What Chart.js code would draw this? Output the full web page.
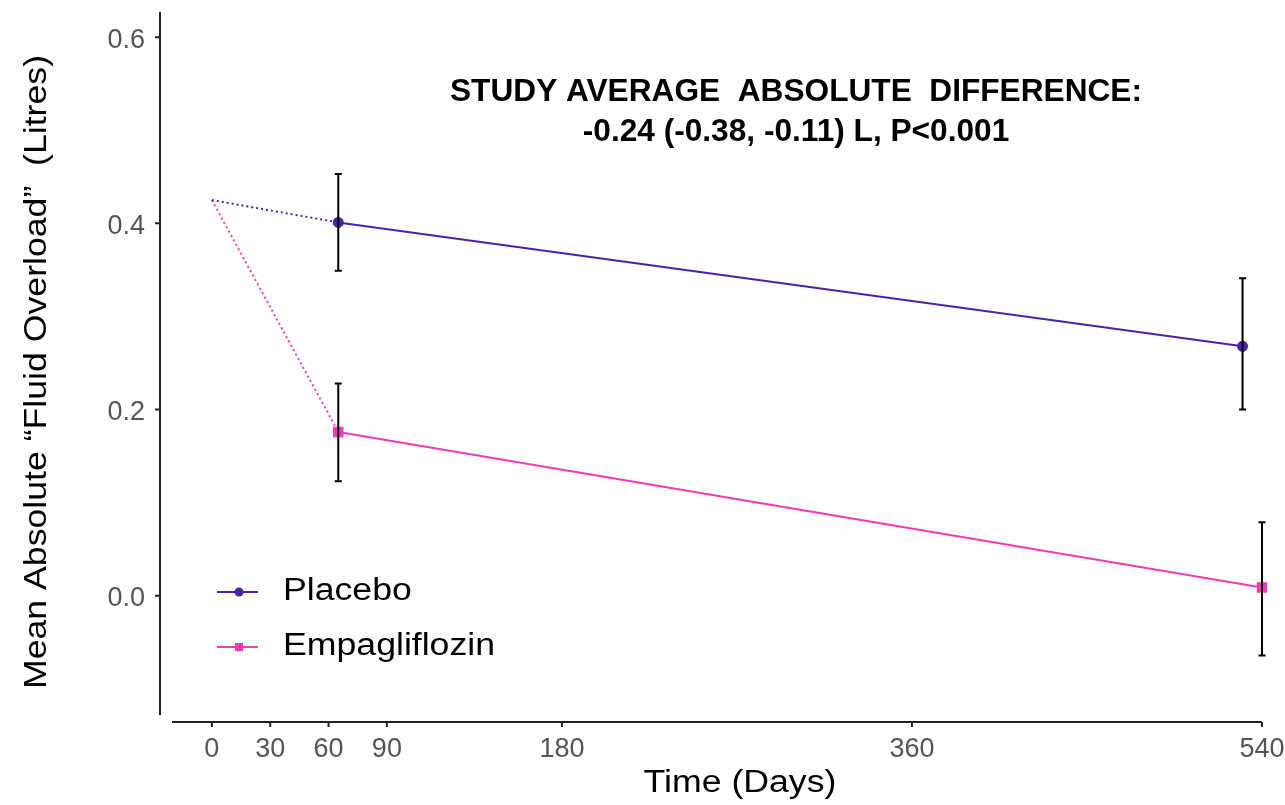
<!DOCTYPE html>
<html>
<head>
<meta charset="utf-8">
<script src="https://cdn.jsdelivr.net/npm/chart.js@4.4.1/dist/chart.umd.min.js"></script>
<style>
  html, body { margin: 0; padding: 0; background: #fff; }
  #wrap { width: 1285px; height: 805px; position: relative; }
</style>
</head>
<body>
<div id="wrap"><canvas id="fo"></canvas></div>
<script>
// ── data ───────────────────────────────────────────────────
const X_TICKS = [0, 30, 60, 90, 180, 360, 540];
const Y_TICKS = [0.0, 0.2, 0.4, 0.6];

const placeboDays = [0, 65, 530];
const placeboMean = [0.425, 0.401, 0.268];
const placeboLow  = [null, 0.349, 0.200];
const placeboHigh = [null, 0.453, 0.341];

const empaDays = [0, 65, 540];
const empaMean = [0.425, 0.176, 0.009];
const empaLow  = [null, 0.123, -0.064];
const empaHigh = [null, 0.228, 0.079];

const SERIES = ['Placebo', 'Empagliflozin'];
const COLORS = ['#4a23a6', '#ef3cb6'];
const TITLE_LINES = ['STUDY AVERAGE  ABSOLUTE  DIFFERENCE:', '-0.24 (-0.38, -0.11) L, P<0.001'];
const X_TITLE = 'Time (Days)';
const Y_TITLE = 'Mean Absolute \u201cFluid Overload\u201d  (Litres)';

const SANS = '"Liberation Sans", Arial, sans-serif';
const STRETCH = 1.15;   // the original figure's labels are slightly widened

const pts = (xs, ys) => xs.map((x, i) => ({ x, y: ys[i] }));

// dotted first segment (baseline → first visit)
const dotFirst = { borderDash: c => c.p0DataIndex === 0 ? [2, 3] : undefined };

// text with a horizontal scale factor
function wideText(ctx, txt, x, y, sx) {
  ctx.save();
  ctx.translate(x, y);
  ctx.scale(sx, 1);
  ctx.fillText(txt, 0, 0);
  ctx.restore();
}

// ── custom drawing: detached axes, error bars, legend, annotation ──
const extras = {
  id: 'extras',
  afterDatasetsDraw(chart) {
    const { ctx, scales: { x, y } } = chart;
    ctx.save();
    ctx.strokeStyle = '#000';
    ctx.lineWidth = 2;
    const bars = [
      [placeboDays, placeboLow, placeboHigh],
      [empaDays, empaLow, empaHigh],
    ];
    bars.forEach(([xs, lo, hi]) => {
      xs.forEach((d, i) => {
        if (lo[i] == null) return;
        const px = x.getPixelForValue(d);
        const y1 = y.getPixelForValue(lo[i]), y2 = y.getPixelForValue(hi[i]);
        ctx.beginPath();
        ctx.moveTo(px, y1); ctx.lineTo(px, y2);
        ctx.moveTo(px - 3.5, y1); ctx.lineTo(px + 3.5, y1);
        ctx.moveTo(px - 3.5, y2); ctx.lineTo(px + 3.5, y2);
        ctx.stroke();
      });
    });
    ctx.restore();
  },
  afterDraw(chart) {
    const { ctx, chartArea: a, scales: { x, y } } = chart;
    ctx.save();
    // axis lines, set off from the panel like the original
    ctx.strokeStyle = '#222';
    ctx.lineWidth = 2;
    const yAxX = a.left - 12, xAxY = a.bottom + 7;
    ctx.beginPath();
    ctx.moveTo(yAxX, a.top); ctx.lineTo(yAxX, a.bottom);
    Y_TICKS.forEach(v => { const p = y.getPixelForValue(v); ctx.moveTo(yAxX - 5, p); ctx.lineTo(yAxX, p); });
    ctx.moveTo(a.left, xAxY); ctx.lineTo(a.right, xAxY);
    X_TICKS.forEach(v => { const p = x.getPixelForValue(v); ctx.moveTo(p, xAxY); ctx.lineTo(p, xAxY + 5); });
    ctx.stroke();

    // axis titles
    ctx.fillStyle = '#000';
    ctx.font = '31px ' + SANS;
    ctx.textAlign = 'center';
    ctx.textBaseline = 'alphabetic';
    wideText(ctx, X_TITLE, 740, 792, STRETCH);
    ctx.save();
    ctx.translate(46, 372);
    ctx.rotate(-Math.PI / 2);
    wideText(ctx, Y_TITLE, 0, 0, STRETCH);
    ctx.restore();

    // annotation (bold, condensed)
    ctx.font = 'bold 31px ' + SANS;
    const sx = 692 / ctx.measureText(TITLE_LINES[0]).width;
    wideText(ctx, TITLE_LINES[0], 796, 101, sx);
    wideText(ctx, TITLE_LINES[1], 796, 141, sx);

    // legend
    const legY = [592, 647];
    ctx.font = '31px ' + SANS;
    ctx.textAlign = 'left';
    SERIES.forEach((name, i) => {
      ctx.strokeStyle = COLORS[i];
      ctx.fillStyle = COLORS[i];
      ctx.lineWidth = 2;
      ctx.beginPath();
      ctx.moveTo(a.left + 45, legY[i]); ctx.lineTo(a.left + 86, legY[i]);
      ctx.stroke();
      if (i === 0) { ctx.beginPath(); ctx.arc(a.left + 67, legY[i], 4.5, 0, Math.PI * 2); ctx.fill(); }
      else ctx.fillRect(a.left + 63, legY[i] - 4, 8, 8);
      ctx.fillStyle = '#000';
      wideText(ctx, name, a.left + 111, legY[i] + 8, STRETCH);
    });
    ctx.restore();
  },
};

new Chart(document.getElementById('fo'), {
  type: 'line',
  data: {
    datasets: [
      {
        label: SERIES[0],
        data: pts(placeboDays, placeboMean),
        borderColor: COLORS[0],
        backgroundColor: COLORS[0],
        borderWidth: 2,
        pointStyle: 'circle',
        pointRadius: c => c.dataIndex === 0 ? 0 : 4.5,
        segment: dotFirst,
        tension: 0,
      },
      {
        label: SERIES[1],
        data: pts(empaDays, empaMean),
        borderColor: COLORS[1],
        backgroundColor: COLORS[1],
        borderWidth: 2,
        pointStyle: 'rect',
        pointRadius: c => c.dataIndex === 0 ? 0 : 6,
        segment: dotFirst,
        tension: 0,
      },
    ],
  },
  options: {
    responsive: true,
    maintainAspectRatio: false,
    animation: false,
    clip: false,
    layout: { padding: { top: 12, right: 23, left: 0, bottom: 0 } },
    plugins: { legend: { display: false }, tooltip: { enabled: false } },
    scales: {
      x: {
        type: 'linear',
        min: -20.5,
        max: 540,
        afterBuildTicks: s => { s.ticks = X_TICKS.map(v => ({ value: v })); },
        afterFit: s => { s.height = 90; s.paddingLeft = 0; s.paddingRight = 0; },
        grid: { display: false, drawTicks: false },
        border: { display: false },
        ticks: { color: '#555', font: { family: SANS, size: 27 }, padding: 18, maxRotation: 0, autoSkip: false },
      },
      y: {
        min: -0.128,
        max: 0.627,
        afterBuildTicks: s => { s.ticks = Y_TICKS.map(v => ({ value: v })); },
        afterFit: s => { s.width = 172; s.paddingTop = 0; s.paddingBottom = 0; },
        grid: { display: false, drawTicks: false },
        border: { display: false },
        ticks: { color: '#555', font: { family: SANS, size: 27 }, padding: 27, labelOffset: 3, callback: v => v.toFixed(1) },
      },
    },
  },
  plugins: [extras],
});
</script>
</body>
</html>
